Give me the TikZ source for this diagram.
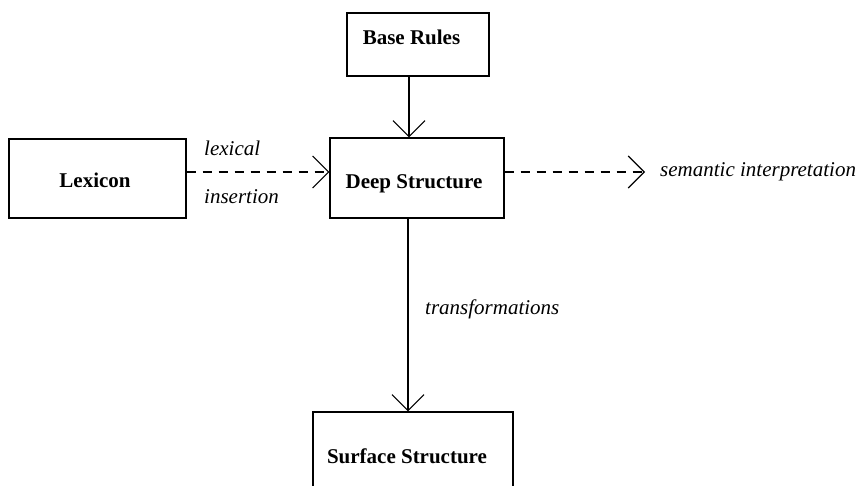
\documentclass[tikz,border=0pt]{standalone}
\usepackage{fontspec}
\setmainfont{Liberation Serif}
\usetikzlibrary{arrows.meta}
\tikzset{
  boxnode/.style={draw, line width=1.3pt, inner sep=0pt},
  boxtext/.style={anchor=base, inner sep=0pt, font=\fontsize{21}{25}\selectfont\bfseries},
  lbltext/.style={anchor=base west, inner sep=0pt, font=\fontsize{21}{25}\selectfont\itshape},
  conn/.style={line width=1.1pt, -{Straight Barb[length=16pt,width=32pt,line width=1.1pt]}},
  dashconn/.style={conn, dash pattern=on 9pt off 7pt},
}
\begin{document}
\begin{tikzpicture}[x=1pt, y=-1pt]
\clip (0,0) rectangle (862,486);
\fill[white] (0,0) rectangle (862,486);
\coordinate (row) at (0,172);
\coordinate (colA) at (409,0);
\coordinate (colB) at (408,0);
% boxes
\node[boxnode, minimum width=142pt, minimum height=63pt] (br) at (418,44.5) {};
\node[boxnode, minimum width=177pt, minimum height=79pt] (lex) at (97.5,178.5) {};
\node[boxnode, minimum width=174pt, minimum height=80pt] (ds) at (417,178) {};
\node[boxnode, minimum width=200pt, minimum height=100pt] (ss) at (413,462) {};
% box texts
\node[boxtext] (brt) at (411.5,45) {Base Rules};
\node[boxtext] (lext) at (95,188) {Lexicon};
\node[boxtext] (dst) at (414,189) {Deep Structure};
\node[boxtext] (sst) at (407,463) {Surface Structure};
% labels
\node[lbltext] (lexical) at (204,156) {lexical};
\node[lbltext] (insertion) at (204,204) {insertion};
\node[lbltext] (trans) at (425,315) {transformations};
\node[lbltext] (sem) at (660,177) {semantic interpretation};
\coordinate (semtip) at (645,172);
% connectors
\draw[conn] (br.south -| colA) -- (ds.north -| colA);
\draw[dashconn] (lex.east |- row) -- (ds.west |- row);
\draw[dashconn] (ds.east |- row) -- (semtip);
\draw[conn] (ds.south -| colB) -- (ss.north -| colB);
\end{tikzpicture}
\end{document}
